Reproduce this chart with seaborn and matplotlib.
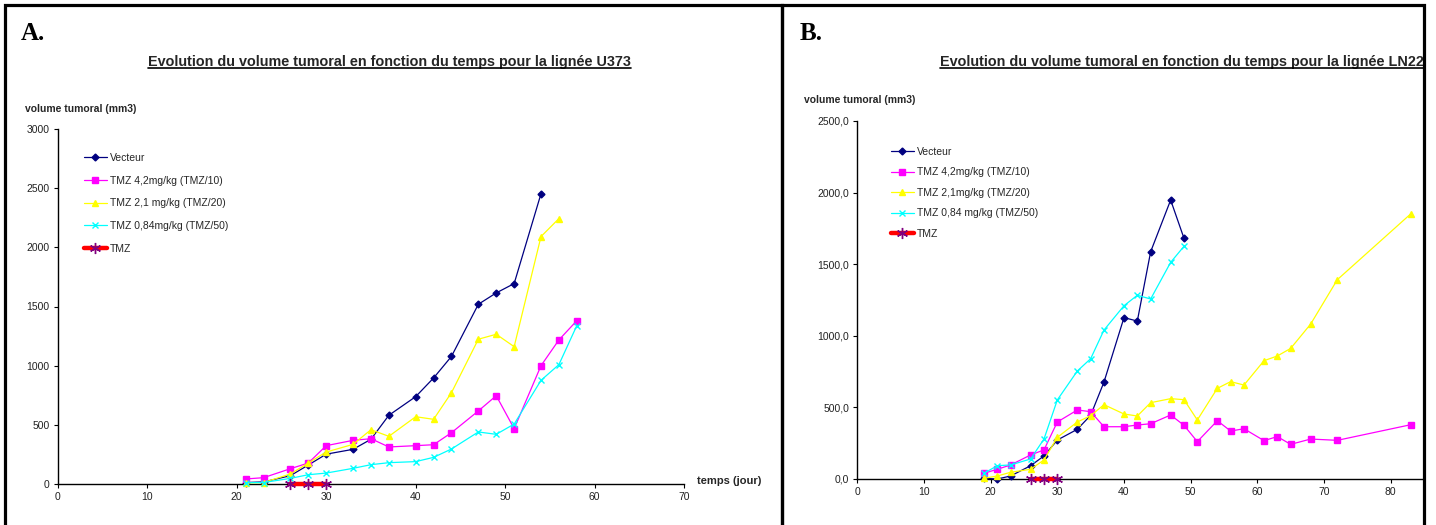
import matplotlib
matplotlib.use('Agg')
import matplotlib.pyplot as plt
import seaborn as sns
from matplotlib.patches import Rectangle
from matplotlib.lines import Line2D

# ---------------- data ----------------
# Panel A : lignée U373
A_days_vecteur = [21, 23, 26, 28, 30, 33, 35, 37, 40, 42, 44, 47, 49, 51, 54]
A_vecteur = [10, 15, 68, 158, 250, 291, 376, 579, 737, 895, 1078, 1519, 1615, 1694, 2455]
A_days_tmz10 = [21, 23, 26, 28, 30, 33, 35, 37, 40, 42, 44, 47, 49, 51, 54, 56, 58]
A_tmz10 = [40, 51, 127, 175, 322, 367, 381, 311, 322, 330, 432, 616, 745, 466, 999, 1217, 1380]
A_days_tmz20 = [21, 23, 26, 28, 30, 33, 35, 37, 40, 42, 44, 47, 49, 51, 54, 56]
A_tmz20 = [5, 10, 82, 175, 268, 333, 457, 401, 567, 545, 771, 1223, 1265, 1160, 2092, 2244]
A_days_tmz50 = [21, 23, 26, 28, 30, 33, 35, 37, 40, 42, 44, 47, 49, 51, 54, 56, 58]
A_tmz50 = [8, 10, 45, 76, 90, 130, 161, 178, 187, 223, 294, 438, 418, 505, 875, 1008, 1338]
A_days_tmz = [26, 28, 30]
A_tmz = [0, 0, 0]
A_labels = ["Vecteur", "TMZ 4,2mg/kg (TMZ/10)", "TMZ 2,1 mg/kg (TMZ/20)",
            "TMZ 0,84mg/kg (TMZ/50)", "TMZ"]
A_xticks = [0, 10, 20, 30, 40, 50, 60, 70]
A_yticks = [0, 500, 1000, 1500, 2000, 2500, 3000]

# Panel B : lignée LN229
B_days_vecteur = [19, 21, 23, 26, 28, 30, 33, 35, 37, 40, 42, 44, 47, 49]
B_vecteur = [5, 0, 21, 93, 161, 272, 347, 445, 677, 1127, 1103, 1587, 1948, 1681]
B_days_long = [19, 21, 23, 26, 28, 30, 33, 35, 37, 40, 42, 44, 47, 49, 51, 54, 56, 58,
               61, 63, 65, 68, 72, 83]
B_tmz10 = [40, 68, 98, 168, 203, 398, 482, 470, 365, 365, 377, 386, 447, 375, 261, 407,
           335, 351, 268, 296, 242, 279, 270, 379]
B_tmz20 = [5, 21, 47, 68, 133, 291, 398, 442, 519, 454, 440, 533, 561, 554, 412, 633,
           680, 656, 826, 859, 912, 1082, 1392, 1851]
B_days_tmz50 = [19, 21, 23, 26, 28, 30, 33, 35, 37, 40, 42, 44, 47, 49]
B_tmz50 = [40, 93, 98, 140, 279, 552, 754, 840, 1040, 1210, 1283, 1257, 1513, 1625]
B_days_tmz = [26, 28, 30]
B_tmz = [0, 0, 0]
B_labels = ["Vecteur", "TMZ 4,2mg/kg (TMZ/10)", "TMZ 2,1mg/kg (TMZ/20)",
            "TMZ 0,84 mg/kg (TMZ/50)", "TMZ"]
B_xticks = [0, 10, 20, 30, 40, 50, 60, 70, 80]
B_yticks = [0, 500, 1000, 1500, 2000, 2500]

TITLE_A = "Evolution du volume tumoral en fonction du temps pour la lignée U373"
TITLE_B = "Evolution du volume tumoral en fonction du temps pour la lignée LN229"
YLABEL = "volume tumoral (mm3)"
XLABEL = "temps (jour)"

# ---------------- styles ----------------
NAVY, MAG, YEL, CYA, RED, PUR = "#000080", "#FF00FF", "#FFFF00", "#00FFFF", "#FF0000", "#800080"

sns.set_style("white")
plt.rcParams['font.family'] = ['Liberation Sans', 'DejaVu Sans']

W, H = 1436, 525
fig = plt.figure(figsize=(W / 100, H / 100), dpi=100, facecolor='white')


def fx(px):
    return px / W


def fy(py):
    return 1 - py / H


def make_axes(x0, x1, y0, y1):
    # pixel coordinates: x0 left, x1 right, y0 top, y1 bottom
    return fig.add_axes([fx(x0), fy(y1), (x1 - x0) / W, (y1 - y0) / H])


def draw_series(ax, series):
    for days, vals, color, marker, ms, lw, mec, label in series:
        sns.lineplot(x=days, y=vals, ax=ax, color=color, marker=marker, markersize=ms,
                     linewidth=lw, markeredgecolor=mec,
                     markerfacecolor=mec if marker not in ('x', (6, 2, 0)) else 'none',
                     markeredgewidth=1.0, label=label, sort=False, errorbar=None,
                     estimator=None, zorder=3)


def style_axes(ax):
    for s in ['top', 'right']:
        ax.spines[s].set_visible(False)
    for s in ['left', 'bottom']:
        ax.spines[s].set_color('black')
        ax.spines[s].set_linewidth(1.0)
    ax.tick_params(axis='both', direction='out', length=3, width=0.8, color='black',
                   labelsize=7.5, labelcolor='#222222', pad=3, left=True, bottom=True)
    ax.grid(False)
    ax.set_xlabel("")
    ax.set_ylabel("")
    ax.patch.set_alpha(0)


# ---------------- panel A ----------------
axA = make_axes(57.7, 684.2, 129.3, 483.7)
draw_series(axA, [
    (A_days_vecteur, A_vecteur, NAVY, 'D', 3.5, 0.9, NAVY, A_labels[0]),
    (A_days_tmz10, A_tmz10, MAG, 's', 5, 0.9, MAG, A_labels[1]),
    (A_days_tmz20, A_tmz20, YEL, '^', 5, 0.9, YEL, A_labels[2]),
    (A_days_tmz50, A_tmz50, CYA, 'x', 4.5, 0.9, CYA, A_labels[3]),
    (A_days_tmz, A_tmz, RED, (6, 2, 0), 8, 3.2, PUR, A_labels[4]),
])
axA.set_xlim(0, 70)
axA.set_ylim(0, 3000)
axA.set_xticks(A_xticks)
axA.set_yticks(A_yticks)
axA.set_xticklabels([str(v) for v in A_xticks])
axA.set_yticklabels([str(v) for v in A_yticks])
style_axes(axA)
for ln in axA.lines:
    ln.set_clip_on(False)
legA = axA.legend(loc='upper left', bbox_to_anchor=(fx(84), fy(153)), bbox_transform=fig.transFigure,
                  frameon=False, fontsize=7.5, handlelength=2.2, handletextpad=0.25,
                  labelspacing=1.22, borderpad=0, borderaxespad=0)

# ---------------- panel B ----------------
axB = make_axes(857.3, 1424.0, 121.0, 479.0)
draw_series(axB, [
    (B_days_vecteur, B_vecteur, NAVY, 'D', 3.5, 0.9, NAVY, B_labels[0]),
    (B_days_long, B_tmz10, MAG, 's', 5, 0.9, MAG, B_labels[1]),
    (B_days_long, B_tmz20, YEL, '^', 5, 0.9, YEL, B_labels[2]),
    (B_days_tmz50, B_tmz50, CYA, 'x', 4.5, 0.9, CYA, B_labels[3]),
    (B_days_tmz, B_tmz, RED, (6, 2, 0), 8, 3.2, PUR, B_labels[4]),
])
axB.set_xlim(0, 85)
axB.set_ylim(0, 2500)
axB.set_xticks(B_xticks)
axB.set_yticks(B_yticks)
axB.set_xticklabels([str(v) for v in B_xticks])
axB.set_yticklabels([f"{v:.1f}".replace('.', ',') for v in B_yticks])
style_axes(axB)
for ln in axB.lines:
    ln.set_clip_on(False)
legB = axB.legend(loc='upper left', bbox_to_anchor=(fx(891), fy(147)), bbox_transform=fig.transFigure,
                  frameon=False, fontsize=7.5, handlelength=2.2, handletextpad=0.25,
                  labelspacing=1.0, borderpad=0, borderaxespad=0)

# ---------------- texts ----------------
fig.text(fx(21), fy(40), "A.", family=['Liberation Serif'], fontweight='bold', fontsize=18,
         ha='left', va='baseline', color='black')
fig.text(fx(800), fy(40), "B.", family=['Liberation Serif'], fontweight='bold', fontsize=18,
         ha='left', va='baseline', color='black')

tA = fig.text(fx(148), fy(66), TITLE_A, fontweight='bold', fontsize=10.4, ha='left', va='baseline')
tB = fig.text(fx(940), fy(66), TITLE_B, fontweight='bold', fontsize=10.4, ha='left', va='baseline')

fig.text(fx(25), fy(109), YLABEL, fontweight='bold', fontsize=7.5, ha='left', va='center')
fig.text(fx(804), fy(100), YLABEL, fontweight='bold', fontsize=7.5, ha='left', va='center')
fig.text(fx(697), fy(481), XLABEL, fontweight='bold', fontsize=8, ha='left', va='center')

# underline the titles
fig.canvas.draw()
r = fig.canvas.get_renderer()
for t in (tA, tB):
    bb = t.get_window_extent(r)
    ybase = (t.get_position()[1]) * H - 2.0
    fig.add_artist(Line2D([bb.x0 / W, bb.x1 / W], [ybase / H, ybase / H], color='black',
                          linewidth=1.2, transform=fig.transFigure, zorder=4))

# cover beyond right border of panel B (clipped in original)
fig.add_artist(Rectangle((fx(1424), 0), 1 - fx(1424), 1, transform=fig.transFigure,
                         facecolor='white', edgecolor='none', zorder=10))

# panel frames
bw = 2.3
fig.add_artist(Rectangle((fx(5), fy(560)), (782 - 5) / W, (560 - 5) / H, transform=fig.transFigure,
                         facecolor='none', edgecolor='black', linewidth=bw, zorder=11))
fig.add_artist(Rectangle((fx(782), fy(560)), (1424 - 782) / W, (560 - 5) / H, transform=fig.transFigure,
                         facecolor='none', edgecolor='black', linewidth=bw, zorder=11))

fig.savefig("out.png", dpi=100, facecolor='white')
